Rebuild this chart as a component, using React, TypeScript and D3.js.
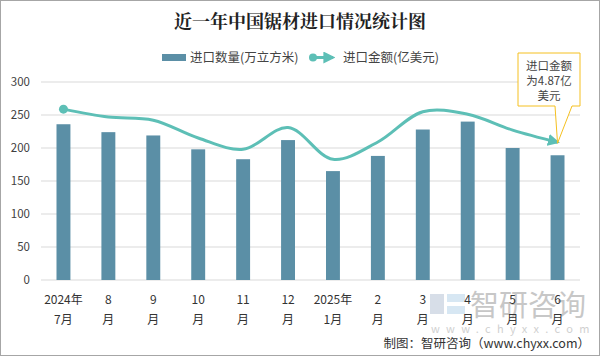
import React from "react";
import * as d3 from "d3";

const categoriesTop = ["2024年", "8", "9", "10", "11", "12", "2025年", "2", "3", "4", "5", "6"];
const categoriesBottom = ["7月", "月", "月", "月", "月", "月", "1月", "月", "月", "月", "月", "月"];
const volume = [236, 224, 219, 198, 183, 212, 165, 188, 228, 240, 200, 189];
const amount = [6.04, 5.76, 5.65, 5.02, 4.62, 5.39, 4.27, 4.88, 5.95, 5.86, 5.3, 4.87];
const yTicks = [0, 50, 100, 150, 200, 250, 300];

const W = 600;
const H = 356;
const FONT = "'Microsoft YaHei', 'Noto Sans CJK SC', sans-serif";

export default function App() {
  const left = 41;
  const right = 580;
  const top = 82;
  const bottom = 280;
  const idx = categoriesTop.map((_, i) => String(i));
  const x = d3.scaleBand<string>().domain(idx).range([left, right]).paddingInner(0.69).paddingOuter(0.345);
  const y = d3.scaleLinear().domain([0, 300]).range([bottom, top]);
  const y2 = d3.scaleLinear().domain([0, 7]).range([bottom, top]);
  const cx = (i: number) => (x(String(i)) as number) + x.bandwidth() / 2;
  const pts: [number, number][] = amount.map((v, i) => [cx(i), y2(v)]);
  const line = d3.line().curve(d3.curveCatmullRom.alpha(0.5))(pts) as string;
  const last = pts[pts.length - 1];

  return (
    <svg width={W} height={H} style={{ position: "absolute", left: 0, top: 0, fontFamily: FONT }}>
      <defs>
        <marker id="arr" viewBox="0 0 10 10" refX="8" refY="5" markerWidth="4" markerHeight="4" orient="auto" markerUnits="strokeWidth">
          <path d="M0,0 L10,5 L0,10 z" fill="#5dbfb6" />
        </marker>
      </defs>
      <rect x={0.5} y={0.5} width={W - 1} height={H - 1} fill="#fff" stroke="#a6a6a6" />
      <text x={300} y={28} textAnchor="middle" fontSize={18} fontWeight="bold" fill="#222" fontFamily="'Noto Serif CJK SC', 'Noto Sans CJK SC', serif">
        近一年中国锯材进口情况统计图
      </text>
      {/* legend */}
      <rect x={162} y={54} width={24} height={7} fill="#5b8fa6" />
      <text x={190} y={61.5} fontSize={12.5} fill="#444">进口数量(万立方米)</text>
      <line x1={313} y1={57.5} x2={333} y2={57.5} stroke="#5dbfb6" strokeWidth={3} markerEnd="url(#arr)" />
      <circle cx={313} cy={57.5} r={4} fill="#5dbfb6" />
      <text x={343} y={61.5} fontSize={12.5} fill="#444">进口金额(亿美元)</text>
      {/* grid */}
      {yTicks.map((t) => (
        <g key={t}>
          <line x1={left} x2={right} y1={y(t)} y2={y(t)} stroke="#d9d9d9" strokeWidth={1} />
          <text x={30} y={y(t) + 4} textAnchor="end" fontSize={11.5} fill="#404040">{t}</text>
        </g>
      ))}
      {/* watermark */}
      <g opacity={0.55}>
        <rect x={430} y={294} width={14} height={20} fill="#b8c4d6" />
        <rect x={447} y={294} width={18} height={8} fill="#b8d4ea" />
        <rect x={447} y={306} width={18} height={8} fill="#b8d4ea" />
        <text x={470} y={316} fontSize={29} fill="#9a9a9a">智研咨询</text>
        <text x={431} y={333} fontSize={11} fill="#aaa" letterSpacing={6.3}>www.chyxx.com</text>
      </g>
      {/* bars */}
      {volume.map((v, i) => (
        <rect key={i} x={x(String(i))} y={y(v)} width={x.bandwidth()} height={bottom - y(v)} fill="#5b8fa6" />
      ))}
      {/* line */}
      <path d={line} fill="none" stroke="#5dbfb6" strokeWidth={3} markerEnd="url(#arr)" />
      <circle cx={pts[0][0]} cy={pts[0][1]} r={4.5} fill="#5dbfb6" />
      {/* x labels */}
      {categoriesTop.map((c, i) => (
        <g key={i}>
          <text x={cx(i)} y={304} textAnchor="middle" fontSize={12} fill="#333">{c}</text>
          <text x={cx(i)} y={324} textAnchor="middle" fontSize={12} fill="#333">{categoriesBottom[i]}</text>
        </g>
      ))}
      {/* callout */}
      <path
        d={`M518,53 L580,53 L580,106 L572,106 L${last[0]},${last[1] + 1} L555,106 L518,106 Z`}
        fill="#fff"
        stroke="#f5c020"
        strokeWidth={1}
      />
      <text x={549} y={70} textAnchor="middle" fontSize={11.5} fill="#444">进口金额</text>
      <text x={549} y={85} textAnchor="middle" fontSize={11.5} fill="#444">为4.87亿</text>
      <text x={549} y={100} textAnchor="middle" fontSize={11.5} fill="#444">美元</text>
      {/* footer */}
      <text x={590} y={348} textAnchor="end" fontSize={12.5} fill="#333">制图：智研咨询（www.chyxx.com）</text>
    </svg>
  );
}
